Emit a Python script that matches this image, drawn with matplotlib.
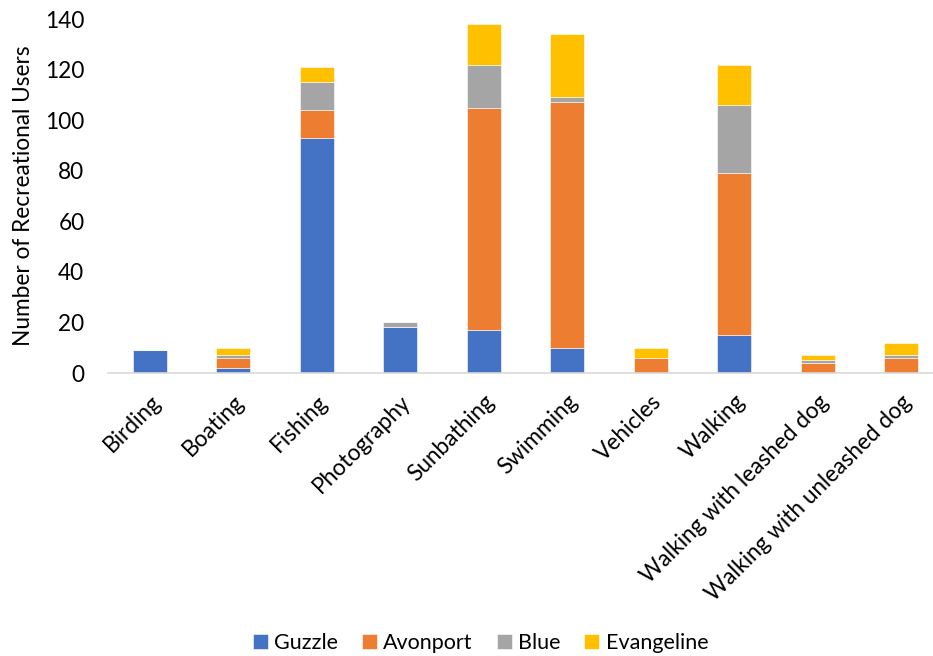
import matplotlib
matplotlib.use("Agg")
import matplotlib.pyplot as plt
import numpy as np

categories = ["Birding", "Boating", "Fishing", "Photography", "Sunbathing", "Swimming",
              "Vehicles", "Walking", "Walking with leashed dog", "Walking with unleashed dog"]
guzzle = [9, 2, 93, 18, 17, 10, 0, 15, 0, 0]
avonport = [0, 4, 11, 0, 88, 97, 6, 64, 4, 6]
blue = [0, 1, 11, 2, 17, 2, 0, 27, 1, 1]
evangeline = [0, 3, 6, 0, 16, 25, 4, 16, 2, 5]
series = [("Guzzle", guzzle, "#4472C4"), ("Avonport", avonport, "#ED7D31"),
          ("Blue", blue, "#A5A5A5"), ("Evangeline", evangeline, "#FFC000")]
yticks = [0, 20, 40, 60, 80, 100, 120, 140]

plt.rcParams['font.family'] = ['Lato', 'DejaVu Sans']
FS = 16.3

fig = plt.figure(figsize=(9.33, 6.56), dpi=100)
ax = fig.add_axes([108/933, 1-373/656, 835/933, (373-19)/656])

x = np.arange(len(categories))
bottom = np.zeros(len(categories))
for name, vals, col in series:
    vals = np.array(vals, dtype=float)
    ax.bar(x, vals, 0.41, bottom=bottom, color=col, label=name, edgecolor='white', linewidth=0.4)
    bottom += vals

ax.set_xlim(-0.5, len(categories) - 0.5)
ax.set_ylim(0, 140)
ax.set_yticks(yticks)
ax.set_xticks(x)
ax.set_xticklabels(categories, rotation=45, ha='right', rotation_mode='anchor', fontsize=FS, color='#000000')
ax.tick_params(axis='y', labelsize=FS, length=0, pad=17)
ax.tick_params(axis='x', length=0, pad=13)
for s in ['top', 'right', 'left']:
    ax.spines[s].set_visible(False)
ax.spines['bottom'].set_color('#D9D9D9')
ax.spines['bottom'].set_linewidth(1.2)
ax.set_ylabel("Number of Recreational Users", fontsize=FS, labelpad=8)

fig.legend(loc='center', bbox_to_anchor=(0.515, 1-643/656), ncol=4, frameon=False,
           fontsize=15.5, handlelength=0.7, handleheight=0.7, columnspacing=1.1, handletextpad=0.3)

fig.savefig("out.png", dpi=100)
